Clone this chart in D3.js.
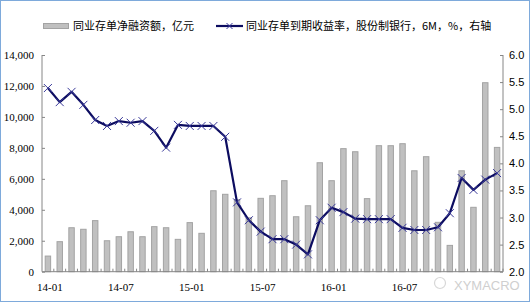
<!DOCTYPE html>
<html>
<head>
<meta charset="utf-8">
<script src="https://cdn.jsdelivr.net/npm/d3@7"></script>
<style>
  body { margin: 0; background: #fff; }
  svg { display: block; }
  .axis path, .axis line { stroke: #868686; }
  .serif text { font-family: "Liberation Serif", serif; font-size: 11px; fill: #000; }
  .sans text { font-family: "Liberation Sans", sans-serif; font-size: 11px; fill: #000; }
</style>
</head>
<body>
<svg width="530" height="303"></svg>
<script>
const W = 530;
const H = 303;
const LEFT = 42;
const RIGHT = 503;
const TOP = 55;
const BOTTOM = 271.7;

const months = [
  "14-01", "14-02", "14-03", "14-04", "14-05", "14-06", "14-07", "14-08", "14-09", "14-10", "14-11", "14-12",
  "15-01", "15-02", "15-03", "15-04", "15-05", "15-06", "15-07", "15-08", "15-09", "15-10", "15-11", "15-12",
  "16-01", "16-02", "16-03", "16-04", "16-05", "16-06", "16-07", "16-08", "16-09", "16-10", "16-11", "16-12",
  "17-01", "17-02", "17-03"
];
// 同业存单净融资额，亿元
const netFinancing = [
  1010, 1940, 2840, 2740, 3300, 2000, 2260, 2580, 2260, 2910, 2840, 2090,
  3170, 2480, 5230, 5000, 4650, 3480, 4740, 4910, 5880, 3550, 4260, 7040,
  5880, 7950, 7750, 4720, 8140, 8140, 8270, 6520, 7430, 3190, 1700, 6520,
  4160, 12210, 8030
];
// 同业存单到期收益率，股份制银行，6M，%
const yieldRate = [
  5.39, 5.13, 5.32, 5.08, 4.80, 4.69, 4.78, 4.75, 4.78, 4.60, 4.29, 4.71,
  4.69, 4.69, 4.69, 4.49, 3.28, 2.95, 2.74, 2.60, 2.60, 2.50, 2.32, 2.95,
  3.18, 3.10, 2.98, 2.97, 2.97, 2.97, 2.81, 2.77, 2.77, 2.82, 3.08, 3.73,
  3.51, 3.70, 3.82
];
const leftTicks = [0, 2000, 4000, 6000, 8000, 10000, 12000, 14000];
const rightTicks = [2.0, 2.5, 3.0, 3.5, 4.0, 4.5, 5.0, 5.5, 6.0];
const xLabels = ["14-01", "14-07", "15-01", "15-07", "16-01", "16-07"];

const svg = d3.select("svg");

svg.append("rect")
  .attr("x", 0.5).attr("y", 0.5)
  .attr("width", W - 1).attr("height", H - 2)
  .attr("fill", "#fff")
  .attr("stroke", "#7eaadb");

const x = d3.scaleBand().domain(months).range([LEFT, RIGHT]);
const yLeft = d3.scaleLinear().domain([0, 14000]).range([BOTTOM, TOP]);
const yRight = d3.scaleLinear().domain([2, 6]).range([BOTTOM, TOP]);
const barWidth = x.bandwidth() * 0.46;

// axes
svg.append("g")
  .attr("class", "axis serif")
  .attr("transform", `translate(${LEFT},0)`)
  .call(d3.axisLeft(yLeft).tickValues(leftTicks).tickSize(-3).tickPadding(8)
    .tickFormat(d3.format(",")))
  .call((g) => g.select(".domain").attr("d", `M0,${TOP}V${BOTTOM}`));

svg.append("g")
  .attr("class", "axis sans")
  .attr("transform", `translate(${RIGHT},0)`)
  .call(d3.axisRight(yRight).tickValues(rightTicks).tickSize(-3).tickPadding(6)
    .tickFormat(d3.format(".1f")))
  .call((g) => g.select(".domain").attr("d", `M0,${TOP}V${BOTTOM}`));

// bars
svg.append("g")
  .selectAll("rect")
  .data(netFinancing)
  .join("rect")
  .attr("x", (d, i) => x(months[i]) + (x.bandwidth() - barWidth) / 2)
  .attr("y", (d) => yLeft(d))
  .attr("width", barWidth)
  .attr("height", (d) => BOTTOM - yLeft(d))
  .attr("fill", "#c0c0c0")
  .attr("stroke", "#a3a3a3")
  .attr("stroke-width", 1);

// bottom axis
const xAxis = svg.append("g")
  .attr("class", "axis serif")
  .attr("transform", `translate(0,${BOTTOM})`);
xAxis.append("line")
  .attr("x1", LEFT).attr("x2", RIGHT)
  .attr("stroke", "#868686");
xAxis.selectAll("line.tick")
  .data(months)
  .join("line")
  .attr("class", "tick")
  .attr("x1", (d) => x(d) + x.bandwidth())
  .attr("x2", (d) => x(d) + x.bandwidth())
  .attr("y1", 0).attr("y2", -3)
  .attr("stroke", "#868686");
xAxis.selectAll("text")
  .data(xLabels)
  .join("text")
  .attr("x", (d) => x(d) + x.bandwidth() / 2 + 2)
  .attr("y", 19)
  .attr("text-anchor", "middle")
  .text((d) => d);

// line
const line = d3.line()
  .x((d, i) => x(months[i]) + x.bandwidth() / 2)
  .y((d) => yRight(d));
svg.append("path")
  .datum(yieldRate)
  .attr("d", line)
  .attr("fill", "none")
  .attr("stroke", "#0c0c60")
  .attr("stroke-width", 2.2)
  .attr("stroke-linejoin", "round");

const cross = (cx, cy, s) => `M${cx - s},${cy - s}L${cx + s},${cy + s}M${cx - s},${cy + s}L${cx + s},${cy - s}`;
svg.append("g")
  .selectAll("path")
  .data(yieldRate)
  .join("path")
  .attr("d", (d, i) => cross(x(months[i]) + x.bandwidth() / 2, yRight(d), 4))
  .attr("stroke", "#3a3a9a")
  .attr("stroke-width", 1);

// legend
const legend = svg.append("g")
  .style("font-family", "'Noto Sans CJK SC', sans-serif")
  .style("font-size", "11px");
legend.append("rect")
  .attr("x", 43.5).attr("y", 23.5)
  .attr("width", 25).attr("height", 5)
  .attr("fill", "#c0c0c0").attr("stroke", "#a3a3a3");
legend.append("text")
  .attr("x", 73).attr("y", 30)
  .text("同业存单净融资额，亿元");
legend.append("line")
  .attr("x1", 216).attr("x2", 243)
  .attr("y1", 26).attr("y2", 26)
  .attr("stroke", "#0c0c60").attr("stroke-width", 2.2);
legend.append("path")
  .attr("d", cross(229.5, 26, 3))
  .attr("stroke", "#3a3a9a");
legend.append("text")
  .attr("x", 246).attr("y", 30)
  .text("同业存单到期收益率，股份制银行，6M，%，右轴");

// watermark
const wm = svg.append("g").attr("opacity", 0.55);
wm.append("circle")
  .attr("cx", 440).attr("cy", 283).attr("r", 5.5)
  .attr("fill", "none").attr("stroke", "#b8b8b8").attr("stroke-width", 1.2);
wm.append("text")
  .attr("x", 454).attr("y", 290)
  .attr("fill", "#a8a8a8")
  .style("font-family", "'Liberation Sans', sans-serif")
  .style("font-size", "13px")
  .text("XYMACRO");
</script>
</body>
</html>
